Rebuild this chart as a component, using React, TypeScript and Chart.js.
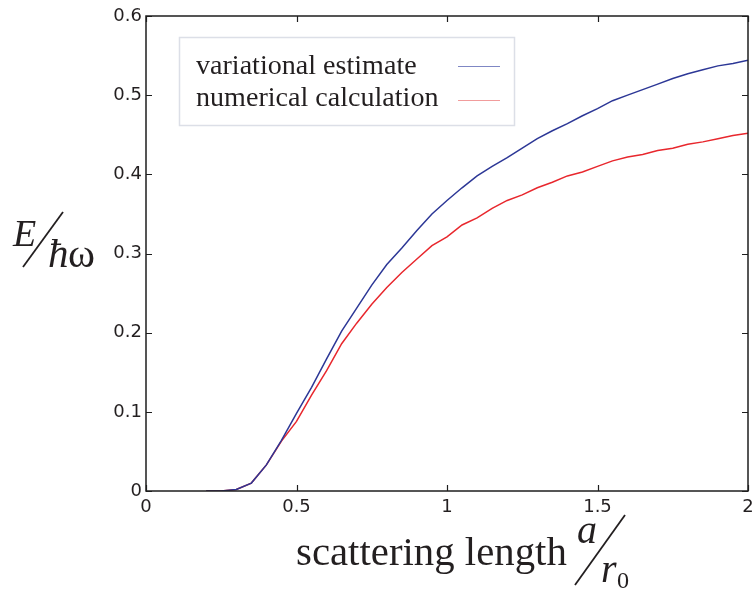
import React, { useEffect, useRef } from "react";
import { Chart, registerables } from "chart.js";

Chart.register(...registerables);

const xValues = [
  0.2, 0.25, 0.3, 0.35, 0.4, 0.45, 0.5, 0.55, 0.6, 0.65, 0.7, 0.75, 0.8, 0.85,
  0.9, 0.95, 1.0, 1.05, 1.1, 1.15, 1.2, 1.25, 1.3, 1.35, 1.4, 1.45, 1.5, 1.55,
  1.6, 1.65, 1.7, 1.75, 1.8, 1.85, 1.9, 1.95, 2.0,
];
const variational = [
  0, 0, 0.002, 0.01, 0.033, 0.064, 0.098, 0.131, 0.167, 0.202, 0.231, 0.26,
  0.286, 0.307, 0.329, 0.35, 0.367, 0.383, 0.398, 0.41, 0.421, 0.433, 0.445,
  0.455, 0.464, 0.474, 0.483, 0.493, 0.5, 0.507, 0.514, 0.521, 0.527, 0.532,
  0.537, 0.54, 0.544,
];
const numerical = [
  0, 0, 0.002, 0.01, 0.033, 0.063, 0.088, 0.121, 0.152, 0.186, 0.212, 0.236,
  0.257, 0.276, 0.293, 0.31, 0.321, 0.336, 0.345, 0.357, 0.367, 0.374, 0.383,
  0.39, 0.398, 0.403, 0.41, 0.417, 0.422, 0.425, 0.43, 0.433, 0.438, 0.441,
  0.445, 0.449, 0.452,
];
const xTickValues = [0, 0.5, 1, 1.5, 2];
const xTickLabels = ["0", "0.5", "1", "1.5", "2"];
const yTickValues = [0, 0.1, 0.2, 0.3, 0.4, 0.5, 0.6];
const yTickLabels = ["0", "0.1", "0.2", "0.3", "0.4", "0.5", "0.6"];
const seriesNames = ["variational estimate", "numerical calculation"];
const seriesColors = ["#2c3796", "#e8272d"];
const legendColors = ["#7f87c4", "#f19c9c"];

const TEXT = "#231f20";
const SERIF = "'Liberation Serif', 'Times New Roman', serif";

function drawScaled(
  ctx: CanvasRenderingContext2D,
  text: string,
  x: number,
  y: number,
  font: string,
  sx: number
) {
  ctx.save();
  ctx.translate(x, y);
  ctx.scale(sx, 1);
  ctx.font = font;
  ctx.fillStyle = TEXT;
  ctx.textAlign = "left";
  ctx.textBaseline = "alphabetic";
  ctx.fillText(text, 0, 0);
  ctx.restore();
}

const decorPlugin = {
  id: "decor",
  afterDatasetsDraw(chart: any) {
    const ctx: CanvasRenderingContext2D = chart.ctx;
    const { left, right, top, bottom } = chart.chartArea;
    const xs = chart.scales.x;
    const ys = chart.scales.y;
    ctx.save();
    // frame
    ctx.strokeStyle = "#1e1e1e";
    ctx.lineWidth = 1.5;
    ctx.strokeRect(left, top, right - left, bottom - top);
    // inward ticks
    const tl = 6;
    ctx.lineWidth = 1.2;
    ctx.beginPath();
    xTickValues.forEach((v) => {
      const px = Math.round(xs.getPixelForValue(v)) + 0.5;
      ctx.moveTo(px, bottom);
      ctx.lineTo(px, bottom - tl);
      ctx.moveTo(px, top);
      ctx.lineTo(px, top + tl);
    });
    yTickValues.forEach((v) => {
      const py = Math.round(ys.getPixelForValue(v)) + 0.5;
      ctx.moveTo(left, py);
      ctx.lineTo(left + tl, py);
      ctx.moveTo(right, py);
      ctx.lineTo(right - tl, py);
    });
    ctx.stroke();

    // legend
    const bx = 179.5, by = 37.5, bw = 335, bh = 88;
    ctx.fillStyle = "#ffffff";
    ctx.fillRect(bx, by, bw, bh);
    ctx.strokeStyle = "#dcdfe7";
    ctx.lineWidth = 1.5;
    ctx.strokeRect(bx, by, bw, bh);
    const rows = [74, 106];
    const sampleY = [66, 100];
    chart.data.datasets.forEach((ds: any, i: number) => {
      drawScaled(ctx, ds.label, 196, rows[i], `27px ${SERIF}`, 1.04);
      ctx.strokeStyle = legendColors[i];
      ctx.lineWidth = 1;
      ctx.beginPath();
      ctx.moveTo(458, sampleY[i] + 0.5);
      ctx.lineTo(500, sampleY[i] + 0.5);
      ctx.stroke();
    });

    // y-axis title: E / ħω
    drawScaled(ctx, "E", 13, 246, `italic 38px ${SERIF}`, 1.0);
    ctx.strokeStyle = TEXT;
    ctx.lineWidth = 1.8;
    ctx.beginPath();
    ctx.moveTo(23, 267);
    ctx.lineTo(63, 212);
    ctx.stroke();
    drawScaled(ctx, "ħ", 48, 267, `italic 41px ${SERIF}`, 1.0);
    drawScaled(ctx, "ω", 68, 267, `41px ${SERIF}`, 1.0);

    // x-axis title: scattering length a / r0
    drawScaled(ctx, "scattering length", 296, 565, `40px ${SERIF}`, 1.02);
    drawScaled(ctx, "a", 577, 543, `italic 40px ${SERIF}`, 1.0);
    ctx.strokeStyle = TEXT;
    ctx.lineWidth = 1.8;
    ctx.beginPath();
    ctx.moveTo(575, 585);
    ctx.lineTo(625, 515);
    ctx.stroke();
    drawScaled(ctx, "r", 601, 582, `italic 40px ${SERIF}`, 1.0);
    drawScaled(ctx, "0", 617, 588, `23px ${SERIF}`, 1.05);
    ctx.restore();
  },
};

export default function App() {
  const canvasRef = useRef<HTMLCanvasElement | null>(null);

  useEffect(() => {
    if (!canvasRef.current) return;
    const datasets = [variational, numerical].map((series, i) => ({
      label: seriesNames[i],
      data: xValues.map((x, j) => ({ x, y: series[j] })),
      borderColor: seriesColors[i],
      borderWidth: 1.5,
      pointRadius: 0,
      tension: 0,
      fill: false,
    }));
    const chart = new Chart(canvasRef.current, {
      type: "line",
      data: { datasets },
      plugins: [decorPlugin],
      options: {
        animation: false,
        responsive: false,
        maintainAspectRatio: false,
        layout: { padding: { top: 16, right: 7, left: 0, bottom: 0 } },
        plugins: {
          legend: { display: false },
          tooltip: { enabled: false },
        },
        scales: {
          x: {
            type: "linear",
            min: 0,
            max: 2,
            afterBuildTicks: (scale: any) => {
              scale.ticks = xTickValues.map((v) => ({ value: v }));
            },
            afterFit: (scale: any) => {
              scale.height = 99;
              scale.paddingLeft = 0;
              scale.paddingRight = 0;
            },
            grid: { display: false, drawTicks: false },
            border: { display: false },
            ticks: {
              padding: 6,
              color: TEXT,
              font: { family: "'DejaVu Sans', sans-serif", size: 18 },
              maxRotation: 0,
              autoSkip: false,
              callback: (v: any) => {
                const idx = xTickValues.findIndex((t) => Math.abs(t - Number(v)) < 1e-9);
                return idx >= 0 ? xTickLabels[idx] : "";
              },
            },
          },
          y: {
            type: "linear",
            min: 0,
            max: 0.6,
            afterBuildTicks: (scale: any) => {
              scale.ticks = yTickValues.map((v) => ({ value: v }));
            },
            afterFit: (scale: any) => {
              scale.width = 146;
              scale.paddingTop = 0;
              scale.paddingBottom = 0;
            },
            grid: { display: false, drawTicks: false },
            border: { display: false },
            ticks: {
              padding: 4,
              color: TEXT,
              font: { family: "'DejaVu Sans', sans-serif", size: 18 },
              autoSkip: false,
              callback: (v: any) => {
                const idx = yTickValues.findIndex((t) => Math.abs(t - Number(v)) < 1e-9);
                return idx >= 0 ? yTickLabels[idx] : "";
              },
            },
          },
        },
      },
    } as any);
    return () => chart.destroy();
  }, []);

  return (
    <div style={{ position: "absolute", left: 0, top: 0, width: 755, height: 590, background: "#fff" }}>
      <canvas ref={canvasRef} width={755} height={590} />
    </div>
  );
}
